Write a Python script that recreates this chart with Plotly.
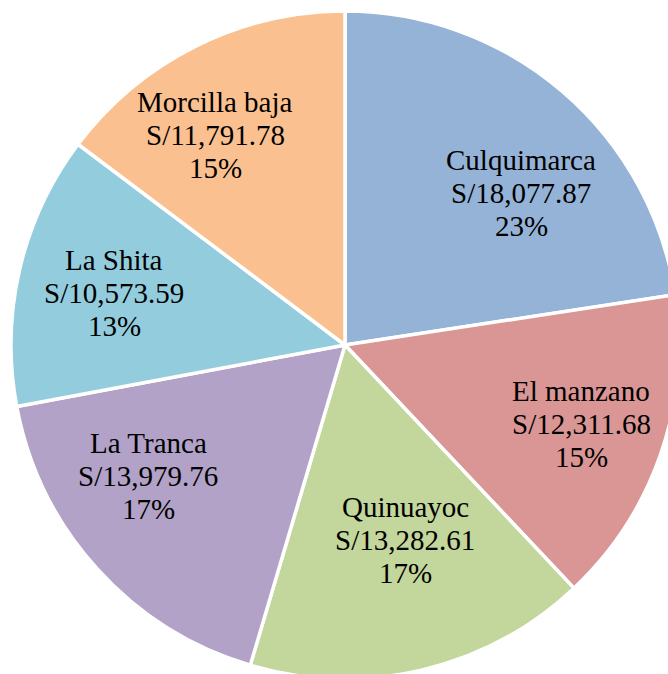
import plotly.graph_objects as go

labels = ["Culquimarca", "El manzano", "Quinuayoc", "La Tranca", "La Shita", "Morcilla baja"]
values = [18077.87, 12311.68, 13282.61, 13979.76, 10573.59, 11791.78]
colors = ["#95B3D7", "#D99694", "#C3D69B", "#B3A2C7", "#93CDDD", "#FAC090"]

# label block placement (pixel: x centre, baseline of middle line) - styling only
label_pos = [(521, 203), (581, 434), (405, 550), (148, 486), (114, 303), (215, 145)]
line_gap = 33
font_size = 29

W, H = 690, 690
cx, cy, r = 345, 345, 334

fig = go.Figure(go.Pie(
    labels=labels,
    values=values,
    sort=False,
    direction="clockwise",
    rotation=0,
    marker=dict(colors=colors, line=dict(color="white", width=3.5)),
    textinfo="none",
    hoverinfo="label+value+percent",
    domain=dict(x=[(cx - r) / W, (cx + r) / W], y=[(H - cy - r) / H, (H - cy + r) / H]),
))

total = sum(values)
font = dict(family="Liberation Serif, Times New Roman, serif", size=font_size, color="black")
for lab, val, (px, py) in zip(labels, values, label_pos):
    lines = [lab, "S/" + f"{val:,.2f}", f"{round(val / total * 100):.0f}%"]
    for i, t in enumerate(lines):
        base = py + (i - 1) * line_gap
        yc = base - 0.33 * font_size
        fig.add_annotation(
            x=px / W, y=1 - yc / H, xref="paper", yref="paper",
            text=t, showarrow=False, font=font,
            xanchor="center", yanchor="middle",
        )

fig.update_layout(
    width=W, height=H,
    margin=dict(l=0, r=0, t=0, b=0),
    paper_bgcolor="white",
    showlegend=False,
)

fig.write_html(
    "out.html",
    config={"displayModeBar": False},
    post_script="document.body.style.margin='0';document.body.style.overflow='hidden';document.documentElement.style.overflow='hidden';",
)
